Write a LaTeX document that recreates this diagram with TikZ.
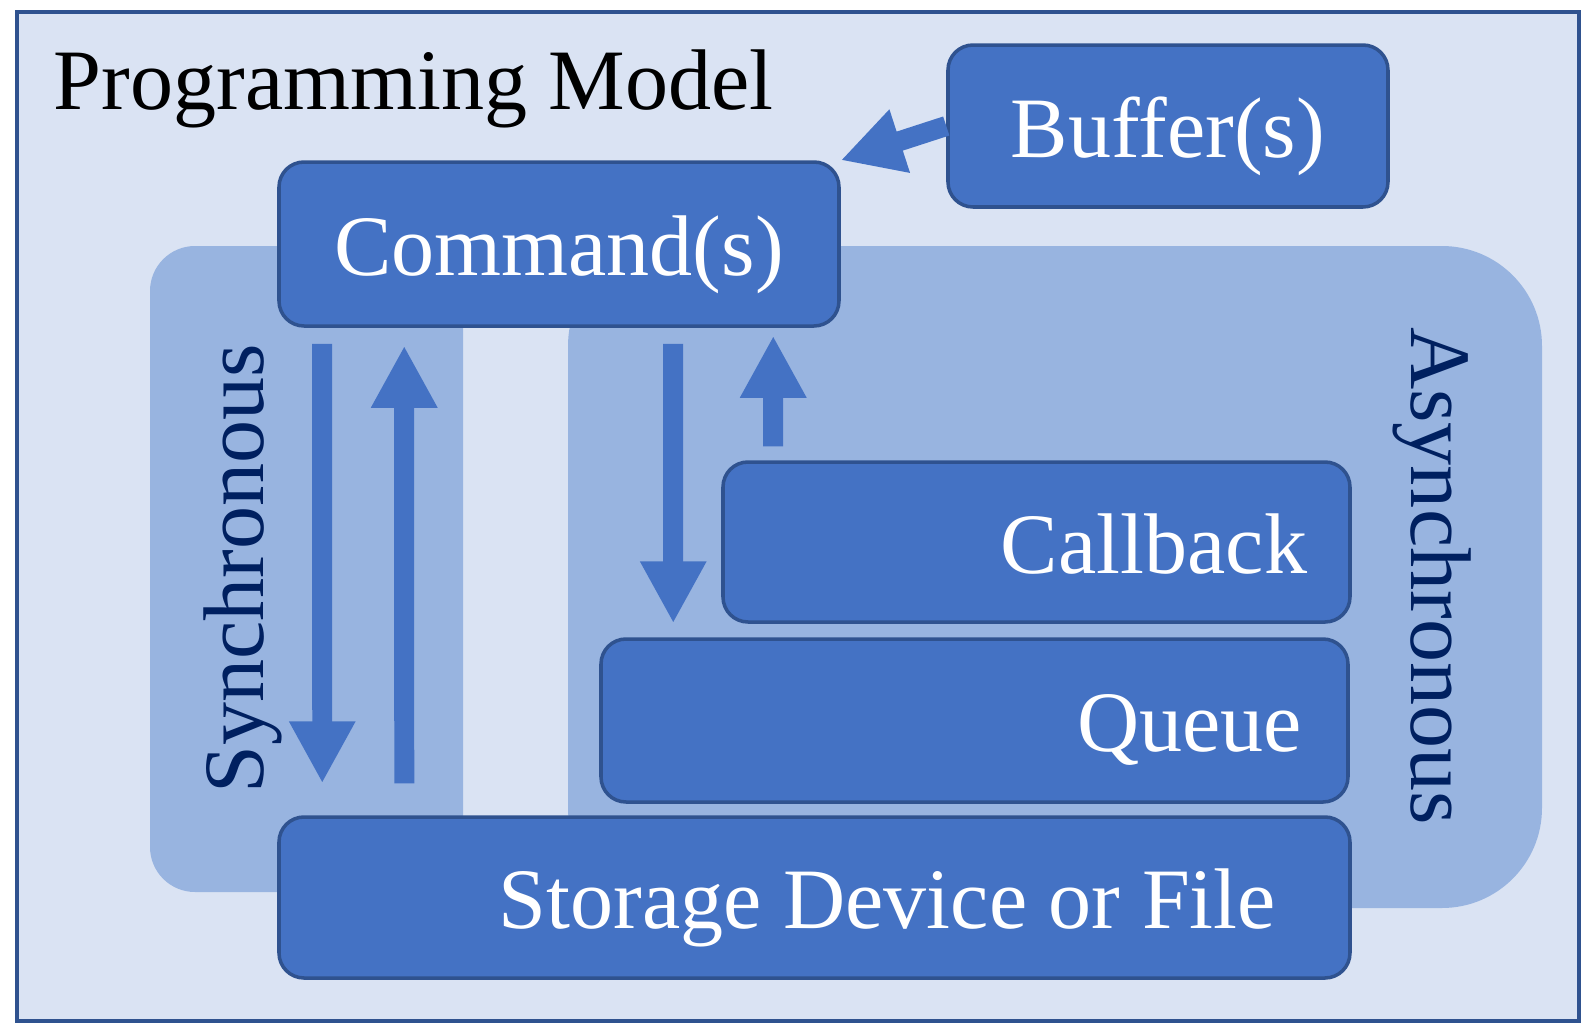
\documentclass[tikz,border=0pt]{standalone}
\usepackage{fontspec}
\setmainfont{Liberation Serif}
\usepackage{xcolor}
\usepackage{tikz}
\usetikzlibrary{shapes,arrows,positioning,calc,arrows.meta}
\definecolor{bgblue}{HTML}{DAE3F3}
\definecolor{edgeblue}{HTML}{2F528F}
\definecolor{boxblue}{HTML}{4472C4}
\definecolor{panelblue}{HTML}{98B4E0}
\definecolor{navy}{HTML}{002060}

\begin{document}
\begin{tikzpicture}[x=0.1mm,y=-0.1mm,
    every node/.style={font=\fontsize{24.5}{29}\selectfont},
    box/.style={draw=edgeblue,line width=1pt,fill=boxblue,rounded corners=2.5mm,text=white,inner sep=0pt,text height=6.2mm,text depth=0pt},
    rbox/.style={box,align=flush right,minimum height=16mm},
    flow/.style={boxblue,line width=2mm,-{Triangle[length=6.2mm,width=6.2mm]}}]
    \useasboundingbox (0,0) rectangle (1585,1026);
    \draw[edgeblue,fill=bgblue,line width=1pt] (17,12) rectangle (1579,1021);
    \fill[panelblue,rounded corners=4.5mm] (150,246) rectangle (463,892);
    \fill[panelblue,rounded corners=10mm] (568,246) rectangle (1542,908);
    \node[anchor=base west,inner sep=0pt] (title) at (53,109) {Programming Model};
    \node[rotate=90,anchor=base,text=navy] (sync) at (264,569) {Synchronous};
    \node[rotate=-90,anchor=base,text=navy] (async) at (1411,576) {Asynchronous};
    \node[box,minimum width=56mm,minimum height=16.4mm] (cmd) at (559,244) {Command(s)};
    \node[box,minimum width=44mm,minimum height=16.2mm] (buf) at (1168,126) {Buffer(s)};
    \node[rbox,inner xsep=4.3mm,text width=54.1mm] (cb) at (1036.5,542) {Callback};
    \node[rbox,inner xsep=4.6mm,text width=65.5mm,minimum height=16.3mm] (queue) at (974.5,720.5) {Queue};
    \node[rbox,inner xsep=7.4mm,text width=92.3mm,minimum height=16.1mm] (store) at (814.5,897.5) {Storage Device or File};
    \draw[flow] (buf.west) -- (cmd.north east);
    \draw[flow] ($(cmd.south west)+(45,16)$) -- ($(store.north west)+(45,-32)$);
    \draw[flow] ($(store.north west)+(127,-32)$) -- ($(cmd.south west)+(127,18)$);
    \draw[flow] ($(cmd.south west)+(396,16)$) -- ($(queue.north west)+(74,-14)$);
    \draw[flow] ($(cb.north west)+(52,-14)$) -- ($(cmd.south west)+(496,8)$);
\end{tikzpicture}
\end{document}
